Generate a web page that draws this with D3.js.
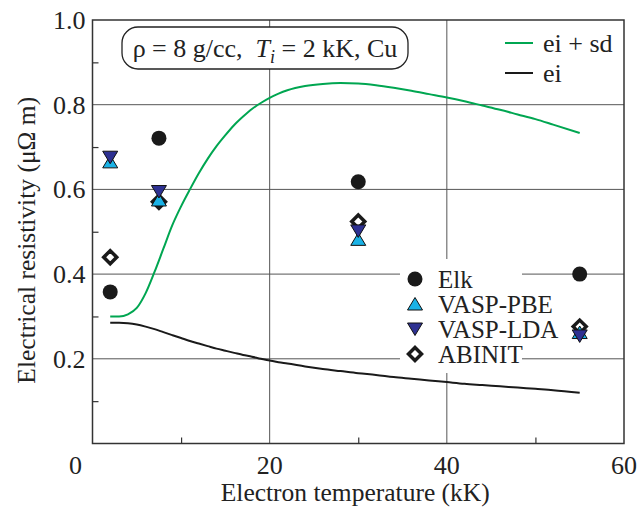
<!DOCTYPE html>
<html>
<head>
<meta charset="utf-8">
<script src="https://cdn.jsdelivr.net/npm/d3@7"></script>
<style>
  body { margin: 0; background: #fff; }
  svg text { font-family: "Liberation Serif", "DejaVu Serif", serif; fill: #222; }
</style>
</head>
<body>
<div id="chart"></div>
<script>
// temperatures (kK) of the DFT points
const tempPoints = [2, 7.5, 30, 55];
const elk = [0.358, 0.721, 0.618, 0.40];
const vaspPBE = [0.665, 0.575, 0.482, 0.262];
const vaspLDA = [0.676, 0.595, 0.502, 0.254];
const abinit = [0.44, 0.571, 0.524, 0.276];

// model curves
const curveT = [2, 3, 4, 5, 6, 7, 8, 9, 10, 11, 12, 13, 14, 15, 16, 17, 18, 19, 20, 21, 22, 24, 26, 28, 30, 32, 34, 36, 38, 40, 42, 44, 46, 48, 50, 52, 55];
const eiSd = [0.30, 0.30, 0.305, 0.32, 0.355, 0.405, 0.46, 0.515, 0.56, 0.60, 0.638, 0.672, 0.702, 0.728, 0.752, 0.772, 0.79, 0.804, 0.816, 0.826, 0.834, 0.844, 0.849, 0.851, 0.85, 0.846, 0.84, 0.833, 0.825, 0.817, 0.808, 0.798, 0.788, 0.777, 0.766, 0.753, 0.733];
const ei = [0.285, 0.285, 0.284, 0.281, 0.276, 0.27, 0.263, 0.256, 0.249, 0.242, 0.236, 0.23, 0.224, 0.219, 0.214, 0.209, 0.205, 0.2, 0.196, 0.192, 0.189, 0.182, 0.176, 0.171, 0.166, 0.162, 0.157, 0.153, 0.149, 0.145, 0.141, 0.138, 0.135, 0.132, 0.129, 0.126, 0.12];

const xTicks = [0, 20, 40, 60];
const yTicks = [0.2, 0.4, 0.6, 0.8, 1.0];

const width = 638, height = 508;
const margin = { left: 92.5, right: 14, top: 20, bottom: 64.5 };

const svg = d3.select("#chart").append("svg")
    .attr("width", width)
    .attr("height", height);

const x = d3.scaleLinear().domain([0, 60]).range([margin.left, width - margin.right]);
const y = d3.scaleLinear().domain([0, 1]).range([height - margin.bottom, margin.top]);

const green = "#00a651", lightBlue = "#1ab2e6", darkBlue = "#2e3192";

// grid
svg.append("g").selectAll("line.gx")
    .data([20, 40]).enter().append("line")
    .attr("x1", d => x(d)).attr("x2", d => x(d))
    .attr("y1", y(0)).attr("y2", y(1))
    .attr("stroke", "#555").attr("stroke-width", 1);
svg.append("g").selectAll("line.gy")
    .data([0.2, 0.4, 0.6, 0.8]).enter().append("line")
    .attr("x1", x(0)).attr("x2", x(60))
    .attr("y1", d => y(d)).attr("y2", d => y(d))
    .attr("stroke", "#555").attr("stroke-width", 1);

// minor inner ticks
const xAxis = svg.append("g")
    .attr("transform", `translate(0,${y(0)})`)
    .call(d3.axisBottom(x).tickValues([10, 30, 50]).tickSize(-6).tickFormat(""));
const yAxis = svg.append("g")
    .attr("transform", `translate(${x(0)},0)`)
    .call(d3.axisLeft(y).tickValues([0.1, 0.3, 0.5, 0.7, 0.9]).tickSize(-6).tickFormat(""));
[xAxis, yAxis].forEach(a => {
    a.select(".domain").remove();
    a.selectAll("line").attr("stroke", "#333").attr("stroke-width", 1.2);
});

// tick labels
svg.append("g").selectAll("text")
    .data(xTicks).enter().append("text")
    .attr("x", d => d === 0 ? x(d) - 17 : x(d))
    .attr("y", y(0) + 30)
    .attr("text-anchor", "middle")
    .style("font-size", "26px")
    .text(d => d);
svg.append("g").selectAll("text")
    .data(yTicks).enter().append("text")
    .attr("x", x(0) - 7)
    .attr("y", d => y(d) + 9)
    .attr("text-anchor", "end")
    .style("font-size", "26px")
    .text(d => d3.format(".1f")(d));

// axis titles
svg.append("text")
    .attr("x", (x(0) + x(60)) / 2 - 3)
    .attr("y", 501)
    .attr("text-anchor", "middle")
    .style("font-size", "25.5px")
    .text("Electron temperature (kK)");
svg.append("text")
    .attr("transform", `translate(35,${y(0.48)}) rotate(-90)`)
    .attr("text-anchor", "middle")
    .style("font-size", "25.5px")
    .text("Electrical resistivity  (μΩ m)");

// curves
const line = d3.line().x(d => x(d[0])).y(d => y(d[1])).curve(d3.curveMonotoneX);
svg.append("path")
    .datum(curveT.map((t, i) => [t, eiSd[i]]))
    .attr("d", line).attr("fill", "none")
    .attr("stroke", green).attr("stroke-width", 2);
svg.append("path")
    .datum(curveT.map((t, i) => [t, ei[i]]))
    .attr("d", line).attr("fill", "none")
    .attr("stroke", "#1a1a1a").attr("stroke-width", 2);

// legend backgrounds
svg.append("rect")
    .attr("x", 400).attr("y", 259).attr("width", 122).attr("height", 114)
    .attr("fill", "#fff");
svg.append("rect")
    .attr("x", 122).attr("y", 27).attr("width", 286).attr("height", 42)
    .attr("rx", 16).attr("ry", 16)
    .attr("fill", "#fff").attr("stroke", "#222").attr("stroke-width", 1.3);

// marker shapes
const triUp = "M0,-6.5L7.5,6L-7.5,6Z";
const triDown = "M0,6.5L7.5,-6L-7.5,-6Z";

function drawMarker(g, type) {
    if (type === "elk") {
        g.append("circle").attr("r", 7.5).attr("fill", "#1a1a1a");
    } else if (type === "pbe") {
        g.append("path").attr("d", triUp).attr("fill", lightBlue).attr("stroke", "#111").attr("stroke-width", 1);
    } else if (type === "lda") {
        g.append("path").attr("d", triDown).attr("fill", darkBlue).attr("stroke", "#111").attr("stroke-width", 1);
    } else {
        g.append("path").attr("d", "M0,-6.5L6.5,0L0,6.5L-6.5,0Z").attr("fill", "#fff").attr("stroke", "#1a1a1a").attr("stroke-width", 3.5);
    }
}

const series = [
    { key: "abinit", values: abinit },
    { key: "pbe", values: vaspPBE },
    { key: "lda", values: vaspLDA },
    { key: "elk", values: elk }
];
series.forEach(s => {
    svg.append("g").selectAll("g")
        .data(tempPoints.map((t, i) => [t, s.values[i]]))
        .enter().append("g")
        .attr("transform", d => `translate(${x(d[0])},${y(d[1])})`)
        .each(function () { drawMarker(d3.select(this), s.key); });
});

// markers legend
const legendItems = [
    { key: "elk", label: "Elk" },
    { key: "pbe", label: "VASP-PBE" },
    { key: "lda", label: "VASP-LDA" },
    { key: "abinit", label: "ABINIT" }
];
legendItems.forEach((d, i) => {
    const g = svg.append("g").attr("transform", `translate(415,${279 + i * 25})`);
    drawMarker(g, d.key);
    g.append("text").attr("x", 23).attr("y", 8.5).style("font-size", "25px").text(d.label);
});

// line legend
const lineLegend = [
    { label: "ei + sd", color: green },
    { label: "ei", color: "#1a1a1a" }
];
lineLegend.forEach((d, i) => {
    const yy = 43 + i * 30;
    svg.append("line").attr("x1", 505).attr("x2", 533).attr("y1", yy).attr("y2", yy)
        .attr("stroke", d.color).attr("stroke-width", 2);
    svg.append("text").attr("x", 543).attr("y", yy + 9).style("font-size", "26px").text(d.label);
});

// annotation
const note = svg.append("text")
    .attr("x", 265).attr("y", 57)
    .attr("text-anchor", "middle")
    .style("font-size", "26px")
    .attr("xml:space", "preserve");
note.append("tspan").text("ρ = 8 g/cc,\u00a0\u00a0");
note.append("tspan").style("font-style", "italic").text("T");
note.append("tspan").style("font-style", "italic").style("font-size", "18px").attr("dy", 6).text("i");
note.append("tspan").attr("dy", -6).text(" = 2 kK, Cu");

// frame
svg.append("rect")
    .attr("x", x(0)).attr("y", y(1))
    .attr("width", x(60) - x(0)).attr("height", y(0) - y(1))
    .attr("fill", "none").attr("stroke", "#333").attr("stroke-width", 1.5);
</script>
</body>
</html>
